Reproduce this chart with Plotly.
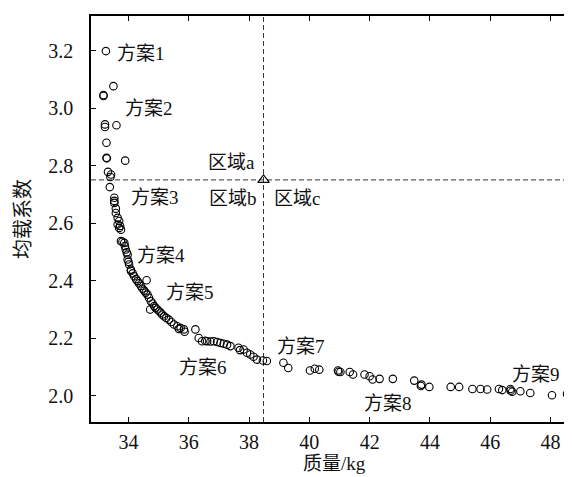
import plotly.graph_objects as go

# scheme points: mass (kg) and load-sharing coefficient
mass = [33.25, 33.50, 33.17, 33.17, 33.22, 33.22, 33.60, 33.27, 33.27, 33.28, 33.89, 33.32, 33.42, 33.40,
        33.38, 33.53, 33.53, 33.53, 33.58, 33.58, 33.64, 33.69, 33.64, 33.69, 33.75, 33.72, 33.75, 33.80,
        33.86, 33.88, 33.91, 33.94, 33.97, 33.97, 34.00, 34.02, 34.08, 34.08, 34.14, 34.19, 34.25, 34.30,
        34.35, 34.41, 34.46, 34.52, 34.57, 34.63, 34.60, 34.68, 34.74, 34.80, 34.85, 34.72, 34.90, 34.96,
        35.02, 35.07, 35.12, 35.18, 35.25, 35.34, 35.42, 35.51, 35.62, 35.67, 35.73, 35.84, 35.86, 36.22,
        36.33, 36.44, 36.55, 36.61, 36.72, 36.83, 36.94, 37.05, 37.16, 37.27, 37.38, 37.65, 37.70, 37.82,
        37.93, 38.04, 38.15, 38.26, 38.46, 38.59, 39.14, 39.30, 40.02, 40.18, 40.33, 40.95, 40.97, 41.03,
        41.34, 41.45, 41.83, 42.00, 42.10, 42.33, 42.77, 43.48, 43.70, 43.72, 43.98, 44.69, 44.97, 45.41,
        45.68, 45.90, 46.29, 46.40, 46.67, 46.68, 46.73, 47.00, 47.33, 48.05, 48.55, 48.57, 48.71]
coef = [3.198, 3.076, 3.045, 3.042, 2.943, 2.934, 2.940, 2.879, 2.827, 2.825, 2.817, 2.778, 2.769, 2.760,
        2.725, 2.688, 2.677, 2.670, 2.650, 2.635, 2.618, 2.607, 2.595, 2.583, 2.577, 2.590, 2.537, 2.535,
        2.531, 2.520, 2.508, 2.498, 2.490, 2.473, 2.465, 2.456, 2.438, 2.433, 2.425, 2.415, 2.405, 2.398,
        2.390, 2.381, 2.372, 2.365, 2.358, 2.351, 2.401, 2.340, 2.328, 2.320, 2.311, 2.299, 2.305, 2.299,
        2.293, 2.288, 2.282, 2.276, 2.270, 2.264, 2.256, 2.247, 2.241, 2.232, 2.235, 2.230, 2.222, 2.230,
        2.200, 2.189, 2.190, 2.189, 2.188, 2.189, 2.186, 2.183, 2.180, 2.177, 2.172, 2.166, 2.158, 2.160,
        2.149, 2.143, 2.135, 2.125, 2.122, 2.120, 2.114, 2.096, 2.087, 2.093, 2.090, 2.087, 2.083, 2.082,
        2.082, 2.073, 2.073, 2.067, 2.056, 2.058, 2.058, 2.052, 2.033, 2.038, 2.030, 2.030, 2.030, 2.023,
        2.023, 2.021, 2.023, 2.019, 2.023, 2.017, 2.013, 2.015, 2.009, 2.001, 2.006, 2.002, 2.009]

# reference (threshold) point
ref_mass = 38.48
ref_coef = 2.75

# labels
label_text = ["方案1", "方案2", "方案3", "方案4", "方案5", "方案6", "方案7", "方案8", "方案9",
              "区域a", "区域b", "区域c"]
label_x = [33.54, 33.83, 34.00, 34.20, 35.19, 35.62, 38.85, 41.76, 46.65, 36.57, 36.60, 38.75]
label_y = [3.19, 2.997, 2.69, 2.486, 2.36, 2.096, 2.172, 1.972, 2.074, 2.809, 2.687, 2.687]

x_title = "质量/kg"
y_title = "均载系数"
x_ticks = [34, 36, 38, 40, 42, 44, 46, 48]
y_ticks = [2.0, 2.2, 2.4, 2.6, 2.8, 3.0, 3.2]
x_range = [32.756, 48.88]
y_range = [1.908, 3.32]

FONT = "Liberation Serif, Noto Sans CJK SC, serif"

fig = go.Figure()
fig.add_trace(go.Scatter(
    x=mass, y=coef, mode="markers",
    marker=dict(symbol="circle-open", size=7.5, color="black", line=dict(width=1.1, color="black")),
    showlegend=False, hoverinfo="x+y"))
fig.add_trace(go.Scatter(
    x=[ref_mass], y=[ref_coef], mode="markers",
    marker=dict(symbol="triangle-up-open", size=10, color="black", line=dict(width=1.1, color="black")),
    showlegend=False))

fig.add_shape(type="line", xref="x", yref="paper", x0=ref_mass, x1=ref_mass, y0=0, y1=1,
              line=dict(color="#333333", width=1, dash="5px,3px"), layer="below")
fig.add_shape(type="line", xref="paper", yref="y", x0=0, x1=1, y0=ref_coef, y1=ref_coef,
              line=dict(color="#333333", width=1, dash="5px,3px"), layer="below")

for t, xx, yy in zip(label_text, label_x, label_y):
    fig.add_annotation(x=xx, y=yy, text=t, showarrow=False, xanchor="left", yanchor="middle",
                       font=dict(family=FONT, size=19, color="#111111"))

# axis titles
fig.add_annotation(x=0.5, y=0, xref="paper", yref="paper", text=x_title, showarrow=False,
                   xanchor="center", yanchor="middle", yshift=-41,
                   font=dict(family=FONT, size=19, color="#111111"))
fig.add_annotation(x=0, y=0.5, xref="paper", yref="paper", text=y_title, showarrow=False,
                   xanchor="center", yanchor="middle", xshift=-68, textangle=-90,
                   font=dict(family=FONT, size=20, color="#111111"))

axis_common = dict(showline=True, linecolor="black", linewidth=1.6, mirror="ticks",
                   ticks="inside", ticklen=5, tickwidth=1, tickcolor="black",
                   showgrid=False, zeroline=False,
                   tickfont=dict(family=FONT, size=20, color="#111111"))

fig.update_xaxes(range=x_range, tickvals=x_ticks, ticklabelstandoff=1, **axis_common)
fig.update_yaxes(range=y_range, tickvals=y_ticks, tickformat=".1f", ticklabelstandoff=12, **axis_common)

fig.update_layout(width=572, height=477, margin=dict(l=83, r=1, t=8, b=63),
                  plot_bgcolor="white", paper_bgcolor="white")

fig.write_html("out.html")
